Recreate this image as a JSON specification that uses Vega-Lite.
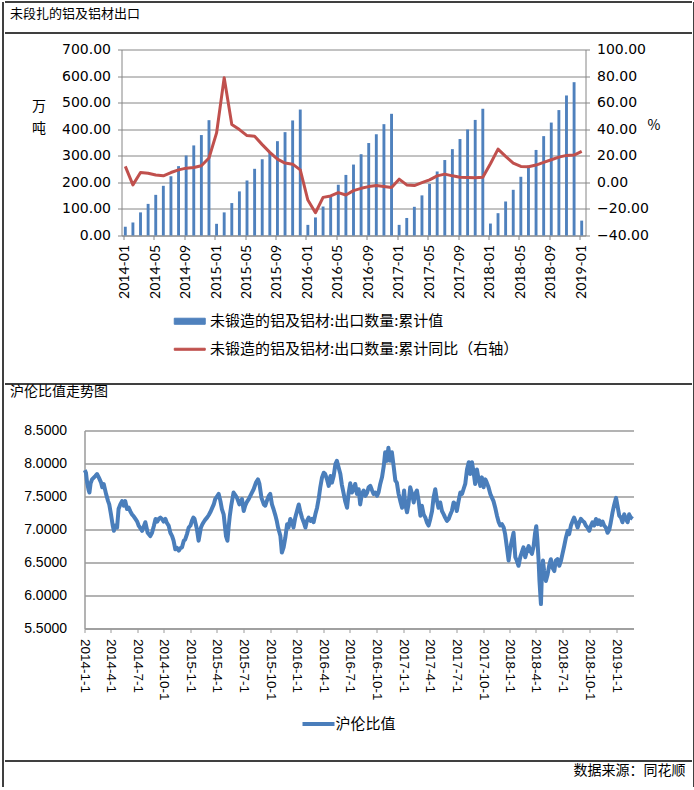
{
  "$schema": "https://vega.github.io/schema/vega-lite/v6.json",
  "background": "white",
  "padding": {"left": 1.5, "top": 0.5, "right": 0, "bottom": 0},
  "autosize": {"type": "pad"},
  "config": {
    "view": {"stroke": null},
    "font": "Noto Sans CJK SC",
    "axis": {"labelColor": "#000", "titleColor": "#000", "domainColor": "#868686", "tickColor": "#868686", "gridColor": "#868686"},
    "legend": {"labelColor": "#000", "padding": 0, "offset": 0},
    "title": {"color": "#000", "fontWeight": "normal", "font": "Noto Sans CJK SC", "fontSize": 14, "baseline": "alphabetic", "frame": "group"}
  },
  "spacing": 0,
  "align": "none",
  "bounds": "full",
  "resolve": {"scale": {"color": "independent"}, "legend": {"color": "independent"}},
  "hconcat": [
    {"width": 0.01, "height": 785, "view": {"stroke": "#000"}, "data": {"values": []}, "mark": "point"},
    {
      "spacing": 0,
      "align": "none",
      "bounds": "full",
      "resolve": {"scale": {"color": "independent"}, "legend": {"color": "independent"}},
      "vconcat": [
        {"width": 687, "height": 0.01, "view": {"stroke": "#000"}, "data": {"values": []}, "mark": "point"},
        {"width": 687, "height": 29, "data": {"values": []}, "mark": "point",
         "title": {"text": "未段扎的铝及铝材出口", "anchor": "start", "offset": -18, "dx": 5.5, "fontSize": 13}},
        {"width": 687, "height": 0.01, "view": {"stroke": "#000"}, "data": {"values": []}, "mark": "point"},
        {"width": 687, "height": 9, "data": {"values": []}, "mark": "point"},
        {
          "spacing": 0,
          "align": "none",
          "bounds": "flush",
          "resolve": {"scale": {"color": "independent"}, "legend": {"color": "independent"}},
          "hconcat": [
            {"width": 117, "height": 333, "data": {"values": []}, "mark": "point"},
            {
              "width": 464,
              "height": 186,
              "data": {"values": [
                {"month": "2014-01", "cum": 33, "yoy": 12.0},
                {"month": "2014-02", "cum": 49, "yoy": -1.9},
                {"month": "2014-03", "cum": 87, "yoy": 7.4},
                {"month": "2014-04", "cum": 119, "yoy": 6.9},
                {"month": "2014-05", "cum": 153, "yoy": 5.6},
                {"month": "2014-06", "cum": 187, "yoy": 4.9},
                {"month": "2014-07", "cum": 223, "yoy": 7.4},
                {"month": "2014-08", "cum": 261, "yoy": 9.4},
                {"month": "2014-09", "cum": 301, "yoy": 10.7},
                {"month": "2014-10", "cum": 339, "yoy": 11.2},
                {"month": "2014-11", "cum": 378, "yoy": 12.5},
                {"month": "2014-12", "cum": 434, "yoy": 18.3},
                {"month": "2015-01", "cum": 44, "yoy": 37.2},
                {"month": "2015-02", "cum": 87, "yoy": 78.8},
                {"month": "2015-03", "cum": 122, "yoy": 43.5},
                {"month": "2015-04", "cum": 166, "yoy": 39.7},
                {"month": "2015-05", "cum": 207, "yoy": 35.2},
                {"month": "2015-06", "cum": 251, "yoy": 34.7},
                {"month": "2015-07", "cum": 287, "yoy": 28.4},
                {"month": "2015-08", "cum": 311, "yoy": 22.6},
                {"month": "2015-09", "cum": 355, "yoy": 17.5},
                {"month": "2015-10", "cum": 389, "yoy": 14.5},
                {"month": "2015-11", "cum": 433, "yoy": 13.7},
                {"month": "2015-12", "cum": 474, "yoy": 9.4},
                {"month": "2016-01", "cum": 40, "yoy": -13.3},
                {"month": "2016-02", "cum": 68, "yoy": -22.9},
                {"month": "2016-03", "cum": 109, "yoy": -11.3},
                {"month": "2016-04", "cum": 147, "yoy": -10.2},
                {"month": "2016-05", "cum": 191, "yoy": -7.7},
                {"month": "2016-06", "cum": 228, "yoy": -9.5},
                {"month": "2016-07", "cum": 267, "yoy": -6.2},
                {"month": "2016-08", "cum": 306, "yoy": -4.5},
                {"month": "2016-09", "cum": 348, "yoy": -3.2},
                {"month": "2016-10", "cum": 381, "yoy": -2.4},
                {"month": "2016-11", "cum": 419, "yoy": -3.2},
                {"month": "2016-12", "cum": 458, "yoy": -3.9},
                {"month": "2017-01", "cum": 40, "yoy": 2.4},
                {"month": "2017-02", "cum": 66, "yoy": -1.9},
                {"month": "2017-03", "cum": 108, "yoy": -2.4},
                {"month": "2017-04", "cum": 151, "yoy": -0.2},
                {"month": "2017-05", "cum": 194, "yoy": 1.9},
                {"month": "2017-06", "cum": 241, "yoy": 4.9},
                {"month": "2017-07", "cum": 284, "yoy": 6.2},
                {"month": "2017-08", "cum": 325, "yoy": 4.9},
                {"month": "2017-09", "cum": 363, "yoy": 3.9},
                {"month": "2017-10", "cum": 399, "yoy": 3.6},
                {"month": "2017-11", "cum": 435, "yoy": 3.4},
                {"month": "2017-12", "cum": 477, "yoy": 3.9},
                {"month": "2018-01", "cum": 45, "yoy": 14.0},
                {"month": "2018-02", "cum": 84, "yoy": 25.0},
                {"month": "2018-03", "cum": 128, "yoy": 19.5},
                {"month": "2018-04", "cum": 172, "yoy": 14.5},
                {"month": "2018-05", "cum": 221, "yoy": 12.0},
                {"month": "2018-06", "cum": 263, "yoy": 11.7},
                {"month": "2018-07", "cum": 322, "yoy": 13.0},
                {"month": "2018-08", "cum": 374, "yoy": 15.0},
                {"month": "2018-09", "cum": 425, "yoy": 17.0},
                {"month": "2018-10", "cum": 472, "yoy": 19.0},
                {"month": "2018-11", "cum": 527, "yoy": 20.3},
                {"month": "2018-12", "cum": 577, "yoy": 20.5},
                {"month": "2019-01", "cum": 56, "yoy": 23.3}
              ]},
              "layer": [
                {
                  "mark": {"type": "bar"},
                  "encoding": {
                    "x": {
                      "field": "month", "type": "ordinal",
                      "scale": {"paddingInner": 0.62, "paddingOuter": 0.31},
                      "axis": {
                        "title": null,
                        "values": ["2014-01","2014-05","2014-09","2015-01","2015-05","2015-09","2016-01","2016-05","2016-09","2017-01","2017-05","2017-09","2018-01","2018-05","2018-09","2019-01"],
                        "bandPosition": 0,
                        "labelAngle": -90,
                        "labelFont": "Lato",
                        "labelFontSize": 14,
                        "labelOverlap": false,
                        "tickSize": 4,
                        "labelPadding": 5,
                        "grid": false
                      }
                    },
                    "y": {
                      "field": "cum", "type": "quantitative",
                      "scale": {"domain": [0, 700], "nice": false},
                      "axis": {
                        "values": [0, 100, 200, 300, 400, 500, 600, 700],
                        "format": ".2f",
                        "labelFont": "DejaVu Sans",
                        "labelFontSize": 14,
                        "tickSize": 4,
                        "labelPadding": 7,
                        "grid": true,
                        "title": ["万", "吨"],
                        "titleAngle": 0,
                        "titleX": -76,
                        "titleY": 50,
                        "titleAlign": "right",
                        "titleBaseline": "top",
                        "titleLineHeight": 22,
                        "titleFont": "Noto Sans CJK SC",
                        "titleFontSize": 14,
                        "titleFontWeight": "normal"
                      }
                    },
                    "color": {
                      "datum": "未锻造的铝及铝材:出口数量:累计值",
                      "scale": {
                        "domain": ["未锻造的铝及铝材:出口数量:累计值", "未锻造的铝及铝材:出口数量:累计同比（右轴）"],
                        "range": ["#4F81BD", "#C0504D"]
                      },
                      "legend": {
                        "title": null,
                        "orient": "none",
                        "legendX": 59.75,
                        "legendY": 263.25,
                        "direction": "vertical",
                        "labelFont": "Noto Sans CJK SC",
                        "labelFontSize": 15,
                        "labelLimit": 600,
                        "symbolType": {"expr": "datum.index === 0 ? 'M-2,-0.39H2V0.39H-2Z' : 'M-2,-0.13H2V0.13H-2Z'"},
                        "symbolSize": 240,
                        "symbolStrokeWidth": 1,
                        "symbolOpacity": 1,
                        "labelOffset": 11.75,
                        "rowPadding": 11
                      }
                    }
                  }
                },
                {
                  "mark": {"type": "line", "strokeWidth": 3, "strokeJoin": "round"},
                  "encoding": {
                    "x": {"field": "month", "type": "ordinal"},
                    "y": {
                      "field": "yoy", "type": "quantitative",
                      "scale": {"domain": [-40, 100], "nice": false},
                      "axis": {
                        "orient": "right",
                        "values": [-40, -20, 0, 20, 40, 60, 80, 100],
                        "format": ".2f",
                        "labelFont": "DejaVu Sans",
                        "labelFontSize": 14,
                        "tickSize": 4,
                        "labelPadding": 7,
                        "grid": false,
                        "title": "%",
                        "titleAngle": 0,
                        "titleX": 68,
                        "titleY": 76,
                        "titleAlign": "center",
                        "titleBaseline": "middle",
                        "titleFont": "Noto Sans CJK SC",
                        "titleFontSize": 14,
                        "titleFontWeight": "normal"
                      }
                    },
                    "color": {"datum": "未锻造的铝及铝材:出口数量:累计同比（右轴）"}
                  }
                }
              ],
              "resolve": {"scale": {"y": "independent"}}
            }
          ]
        },
        {"width": 687, "height": 0.01, "view": {"stroke": "#000"}, "data": {"values": []}, "mark": "point"},
        {"width": 687, "height": 39, "data": {"values": []}, "mark": "point",
         "title": {"text": "沪伦比值走势图", "anchor": "start", "offset": -14, "dx": 5.5}},
        {
          "spacing": 0,
          "align": "none",
          "bounds": "flush",
          "resolve": {"scale": {"color": "independent"}, "legend": {"color": "independent"}},
          "hconcat": [
            {"width": 80, "height": 329, "data": {"values": []}, "mark": "point"},
            {
              "width": 549,
              "height": 198,
              "data": {"values": [
                {"date":"2014-01-02","ratio":7.90},{"date":"2014-01-06","ratio":7.86},{"date":"2014-01-10","ratio":7.71},{"date":"2014-01-15","ratio":7.60},{"date":"2014-01-18","ratio":7.56},{"date":"2014-01-22","ratio":7.70},{"date":"2014-01-27","ratio":7.76},{"date":"2014-02-07","ratio":7.81},{"date":"2014-02-13","ratio":7.84},{"date":"2014-02-19","ratio":7.79},{"date":"2014-02-27","ratio":7.71},{"date":"2014-03-03","ratio":7.64},{"date":"2014-03-08","ratio":7.69},{"date":"2014-03-16","ratio":7.54},{"date":"2014-03-23","ratio":7.43},{"date":"2014-03-27","ratio":7.38},{"date":"2014-04-02","ratio":7.23},{"date":"2014-04-08","ratio":7.06},{"date":"2014-04-12","ratio":6.98},{"date":"2014-04-17","ratio":7.06},{"date":"2014-04-23","ratio":7.03},{"date":"2014-04-28","ratio":7.31},{"date":"2014-05-04","ratio":7.38},{"date":"2014-05-10","ratio":7.43},{"date":"2014-05-16","ratio":7.36},{"date":"2014-05-21","ratio":7.43},{"date":"2014-05-27","ratio":7.31},{"date":"2014-06-02","ratio":7.33},{"date":"2014-06-08","ratio":7.27},{"date":"2014-06-13","ratio":7.23},{"date":"2014-06-19","ratio":7.20},{"date":"2014-06-25","ratio":7.16},{"date":"2014-07-01","ratio":7.12},{"date":"2014-07-06","ratio":7.06},{"date":"2014-07-12","ratio":7.02},{"date":"2014-07-18","ratio":6.98},{"date":"2014-07-24","ratio":7.05},{"date":"2014-07-29","ratio":7.11},{"date":"2014-08-06","ratio":6.95},{"date":"2014-08-15","ratio":6.90},{"date":"2014-08-21","ratio":6.95},{"date":"2014-08-27","ratio":7.05},{"date":"2014-09-02","ratio":7.16},{"date":"2014-09-08","ratio":7.12},{"date":"2014-09-13","ratio":7.16},{"date":"2014-09-19","ratio":7.18},{"date":"2014-09-24","ratio":7.16},{"date":"2014-09-30","ratio":7.12},{"date":"2014-10-06","ratio":7.16},{"date":"2014-10-11","ratio":7.10},{"date":"2014-10-17","ratio":7.06},{"date":"2014-10-23","ratio":6.95},{"date":"2014-10-29","ratio":6.90},{"date":"2014-11-03","ratio":6.83},{"date":"2014-11-09","ratio":6.70},{"date":"2014-11-15","ratio":6.72},{"date":"2014-11-21","ratio":6.68},{"date":"2014-11-27","ratio":6.72},{"date":"2014-12-02","ratio":6.73},{"date":"2014-12-08","ratio":6.83},{"date":"2014-12-13","ratio":6.85},{"date":"2014-12-19","ratio":6.93},{"date":"2014-12-25","ratio":7.03},{"date":"2014-12-31","ratio":7.06},
                {"date":"2015-01-05","ratio":7.13},{"date":"2015-01-10","ratio":7.18},{"date":"2015-01-14","ratio":7.16},{"date":"2015-01-22","ratio":7.01},{"date":"2015-01-28","ratio":6.83},{"date":"2015-02-05","ratio":7.03},{"date":"2015-02-10","ratio":7.08},{"date":"2015-02-14","ratio":7.11},{"date":"2015-02-20","ratio":7.15},{"date":"2015-02-26","ratio":7.18},{"date":"2015-03-04","ratio":7.22},{"date":"2015-03-09","ratio":7.26},{"date":"2015-03-15","ratio":7.32},{"date":"2015-03-21","ratio":7.38},{"date":"2015-03-26","ratio":7.46},{"date":"2015-04-01","ratio":7.50},{"date":"2015-04-07","ratio":7.54},{"date":"2015-04-13","ratio":7.43},{"date":"2015-04-18","ratio":7.31},{"date":"2015-04-24","ratio":7.23},{"date":"2015-05-02","ratio":6.90},{"date":"2015-05-07","ratio":6.83},{"date":"2015-05-11","ratio":7.03},{"date":"2015-05-15","ratio":7.20},{"date":"2015-05-20","ratio":7.36},{"date":"2015-05-28","ratio":7.56},{"date":"2015-06-03","ratio":7.52},{"date":"2015-06-09","ratio":7.48},{"date":"2015-06-17","ratio":7.38},{"date":"2015-06-26","ratio":7.46},{"date":"2015-07-02","ratio":7.28},{"date":"2015-07-07","ratio":7.36},{"date":"2015-07-13","ratio":7.42},{"date":"2015-07-19","ratio":7.46},{"date":"2015-07-28","ratio":7.54},{"date":"2015-08-05","ratio":7.61},{"date":"2015-08-13","ratio":7.71},{"date":"2015-08-20","ratio":7.76},{"date":"2015-08-25","ratio":7.69},{"date":"2015-09-01","ratio":7.48},{"date":"2015-09-09","ratio":7.38},{"date":"2015-09-14","ratio":7.36},{"date":"2015-09-20","ratio":7.44},{"date":"2015-09-26","ratio":7.51},{"date":"2015-10-01","ratio":7.54},{"date":"2015-10-07","ratio":7.38},{"date":"2015-10-13","ratio":7.30},{"date":"2015-10-19","ratio":7.21},{"date":"2015-10-24","ratio":7.12},{"date":"2015-10-28","ratio":7.03},{"date":"2015-11-05","ratio":6.90},{"date":"2015-11-10","ratio":6.65},{"date":"2015-11-16","ratio":6.73},{"date":"2015-11-22","ratio":6.88},{"date":"2015-11-28","ratio":7.08},{"date":"2015-12-03","ratio":7.03},{"date":"2015-12-09","ratio":7.16},{"date":"2015-12-15","ratio":7.11},{"date":"2015-12-20","ratio":7.03},{"date":"2015-12-26","ratio":7.18},
                {"date":"2016-01-01","ratio":7.28},{"date":"2016-01-07","ratio":7.38},{"date":"2016-01-12","ratio":7.28},{"date":"2016-01-18","ratio":7.18},{"date":"2016-01-24","ratio":7.11},{"date":"2016-01-30","ratio":7.03},{"date":"2016-02-04","ratio":7.13},{"date":"2016-02-10","ratio":7.18},{"date":"2016-02-16","ratio":7.13},{"date":"2016-02-22","ratio":7.16},{"date":"2016-02-27","ratio":7.11},{"date":"2016-03-04","ratio":7.23},{"date":"2016-03-10","ratio":7.33},{"date":"2016-03-16","ratio":7.48},{"date":"2016-03-21","ratio":7.64},{"date":"2016-03-27","ratio":7.79},{"date":"2016-04-02","ratio":7.86},{"date":"2016-04-07","ratio":7.84},{"date":"2016-04-13","ratio":7.76},{"date":"2016-04-19","ratio":7.66},{"date":"2016-04-25","ratio":7.81},{"date":"2016-04-30","ratio":7.71},{"date":"2016-05-06","ratio":7.81},{"date":"2016-05-12","ratio":7.99},{"date":"2016-05-17","ratio":8.04},{"date":"2016-05-23","ratio":7.94},{"date":"2016-05-29","ratio":7.84},{"date":"2016-06-03","ratio":7.68},{"date":"2016-06-09","ratio":7.55},{"date":"2016-06-15","ratio":7.42},{"date":"2016-06-21","ratio":7.33},{"date":"2016-06-26","ratio":7.54},{"date":"2016-07-02","ratio":7.70},{"date":"2016-07-08","ratio":7.56},{"date":"2016-07-14","ratio":7.62},{"date":"2016-07-19","ratio":7.69},{"date":"2016-07-25","ratio":7.54},{"date":"2016-07-31","ratio":7.61},{"date":"2016-08-05","ratio":7.38},{"date":"2016-08-11","ratio":7.54},{"date":"2016-08-17","ratio":7.59},{"date":"2016-08-23","ratio":7.51},{"date":"2016-08-29","ratio":7.56},{"date":"2016-09-03","ratio":7.64},{"date":"2016-09-09","ratio":7.66},{"date":"2016-09-15","ratio":7.59},{"date":"2016-09-20","ratio":7.54},{"date":"2016-09-26","ratio":7.56},{"date":"2016-10-02","ratio":7.51},{"date":"2016-10-07","ratio":7.56},{"date":"2016-10-13","ratio":7.69},{"date":"2016-10-19","ratio":7.79},{"date":"2016-10-25","ratio":7.96},{"date":"2016-10-30","ratio":8.17},{"date":"2016-11-05","ratio":8.04},{"date":"2016-11-10","ratio":8.24},{"date":"2016-11-16","ratio":8.04},{"date":"2016-11-22","ratio":8.17},{"date":"2016-11-28","ratio":7.96},{"date":"2016-12-04","ratio":7.74},{"date":"2016-12-09","ratio":7.71},{"date":"2016-12-15","ratio":7.54},{"date":"2016-12-21","ratio":7.43},{"date":"2016-12-27","ratio":7.33},
                {"date":"2017-01-03","ratio":7.59},{"date":"2017-01-07","ratio":7.38},{"date":"2017-01-13","ratio":7.26},{"date":"2017-01-18","ratio":7.38},{"date":"2017-01-24","ratio":7.64},{"date":"2017-01-30","ratio":7.54},{"date":"2017-02-05","ratio":7.41},{"date":"2017-02-10","ratio":7.54},{"date":"2017-02-16","ratio":7.59},{"date":"2017-02-22","ratio":7.43},{"date":"2017-02-28","ratio":7.21},{"date":"2017-03-05","ratio":7.36},{"date":"2017-03-11","ratio":7.23},{"date":"2017-03-17","ratio":7.18},{"date":"2017-03-22","ratio":7.11},{"date":"2017-03-28","ratio":7.06},{"date":"2017-04-03","ratio":7.16},{"date":"2017-04-09","ratio":7.28},{"date":"2017-04-14","ratio":7.48},{"date":"2017-04-20","ratio":7.61},{"date":"2017-04-26","ratio":7.43},{"date":"2017-05-01","ratio":7.33},{"date":"2017-05-07","ratio":7.41},{"date":"2017-05-13","ratio":7.28},{"date":"2017-05-19","ratio":7.23},{"date":"2017-05-24","ratio":7.18},{"date":"2017-05-30","ratio":7.13},{"date":"2017-06-05","ratio":7.16},{"date":"2017-06-11","ratio":7.23},{"date":"2017-06-16","ratio":7.28},{"date":"2017-06-22","ratio":7.41},{"date":"2017-06-28","ratio":7.38},{"date":"2017-07-03","ratio":7.28},{"date":"2017-07-09","ratio":7.43},{"date":"2017-07-15","ratio":7.56},{"date":"2017-07-21","ratio":7.54},{"date":"2017-07-26","ratio":7.61},{"date":"2017-08-01","ratio":7.69},{"date":"2017-08-07","ratio":7.91},{"date":"2017-08-13","ratio":8.02},{"date":"2017-08-18","ratio":7.84},{"date":"2017-08-24","ratio":8.02},{"date":"2017-08-30","ratio":7.86},{"date":"2017-09-04","ratio":7.69},{"date":"2017-09-10","ratio":7.91},{"date":"2017-09-16","ratio":7.76},{"date":"2017-09-22","ratio":7.66},{"date":"2017-09-27","ratio":7.79},{"date":"2017-10-03","ratio":7.64},{"date":"2017-10-09","ratio":7.76},{"date":"2017-10-14","ratio":7.71},{"date":"2017-10-20","ratio":7.64},{"date":"2017-10-26","ratio":7.54},{"date":"2017-11-01","ratio":7.48},{"date":"2017-11-06","ratio":7.43},{"date":"2017-11-12","ratio":7.33},{"date":"2017-11-18","ratio":7.21},{"date":"2017-11-24","ratio":7.11},{"date":"2017-11-29","ratio":7.06},{"date":"2017-12-05","ratio":7.08},{"date":"2017-12-11","ratio":7.03},{"date":"2017-12-16","ratio":6.93},{"date":"2017-12-22","ratio":6.73},{"date":"2017-12-28","ratio":6.53},
                {"date":"2018-01-03","ratio":6.73},{"date":"2018-01-08","ratio":6.83},{"date":"2018-01-14","ratio":6.95},{"date":"2018-01-20","ratio":6.58},{"date":"2018-01-25","ratio":6.53},{"date":"2018-01-31","ratio":6.45},{"date":"2018-02-06","ratio":6.58},{"date":"2018-02-11","ratio":6.65},{"date":"2018-02-17","ratio":6.73},{"date":"2018-02-23","ratio":6.58},{"date":"2018-03-01","ratio":6.68},{"date":"2018-03-07","ratio":6.75},{"date":"2018-03-12","ratio":6.68},{"date":"2018-03-18","ratio":6.63},{"date":"2018-03-24","ratio":6.75},{"date":"2018-03-29","ratio":6.95},{"date":"2018-04-02","ratio":7.05},{"date":"2018-04-06","ratio":6.83},{"date":"2018-04-10","ratio":6.53},{"date":"2018-04-13","ratio":6.22},{"date":"2018-04-18","ratio":5.87},{"date":"2018-04-21","ratio":6.28},{"date":"2018-04-25","ratio":6.53},{"date":"2018-04-29","ratio":6.37},{"date":"2018-05-05","ratio":6.22},{"date":"2018-05-11","ratio":6.32},{"date":"2018-05-17","ratio":6.47},{"date":"2018-05-22","ratio":6.55},{"date":"2018-05-28","ratio":6.42},{"date":"2018-06-03","ratio":6.37},{"date":"2018-06-08","ratio":6.53},{"date":"2018-06-14","ratio":6.55},{"date":"2018-06-20","ratio":6.45},{"date":"2018-06-26","ratio":6.53},{"date":"2018-07-01","ratio":6.63},{"date":"2018-07-07","ratio":6.75},{"date":"2018-07-13","ratio":6.88},{"date":"2018-07-19","ratio":6.98},{"date":"2018-07-24","ratio":6.93},{"date":"2018-07-30","ratio":7.06},{"date":"2018-08-05","ratio":7.13},{"date":"2018-08-10","ratio":7.18},{"date":"2018-08-16","ratio":7.11},{"date":"2018-08-22","ratio":7.03},{"date":"2018-08-28","ratio":7.11},{"date":"2018-09-02","ratio":7.16},{"date":"2018-09-08","ratio":7.13},{"date":"2018-09-14","ratio":7.11},{"date":"2018-09-19","ratio":7.06},{"date":"2018-09-25","ratio":7.03},{"date":"2018-10-01","ratio":6.98},{"date":"2018-10-07","ratio":7.06},{"date":"2018-10-12","ratio":7.11},{"date":"2018-10-18","ratio":7.06},{"date":"2018-10-24","ratio":7.16},{"date":"2018-10-30","ratio":7.08},{"date":"2018-11-04","ratio":7.14},{"date":"2018-11-10","ratio":7.07},{"date":"2018-11-16","ratio":7.12},{"date":"2018-11-21","ratio":7.06},{"date":"2018-11-27","ratio":7.03},{"date":"2018-12-03","ratio":6.95},{"date":"2018-12-09","ratio":7.00},{"date":"2018-12-14","ratio":7.11},{"date":"2018-12-20","ratio":7.26},{"date":"2018-12-26","ratio":7.38},
                {"date":"2019-01-01","ratio":7.48},{"date":"2019-01-06","ratio":7.36},{"date":"2019-01-12","ratio":7.21},{"date":"2019-01-18","ratio":7.18},{"date":"2019-01-23","ratio":7.11},{"date":"2019-01-29","ratio":7.23},{"date":"2019-02-04","ratio":7.16},{"date":"2019-02-10","ratio":7.11},{"date":"2019-02-15","ratio":7.23},{"date":"2019-02-21","ratio":7.18},{"date":"2019-02-27","ratio":7.16}
              ]},
              "mark": {"type": "line", "strokeWidth": 4, "strokeJoin": "round"},
              "encoding": {
                "x": {
                  "field": "date", "type": "temporal",
                  "scale": {"type": "utc", "domain": [{"year": 2014, "month": 1, "date": 1, "utc": true}, {"year": 2019, "month": 3, "date": 2, "utc": true}]},
                  "axis": {
                    "title": null,
                    "values": [
                      {"year": 2014, "month": 1, "date": 1, "utc": true},{"year": 2014, "month": 4, "date": 1, "utc": true},{"year": 2014, "month": 7, "date": 1, "utc": true},{"year": 2014, "month": 10, "date": 1, "utc": true},
                      {"year": 2015, "month": 1, "date": 1, "utc": true},{"year": 2015, "month": 4, "date": 1, "utc": true},{"year": 2015, "month": 7, "date": 1, "utc": true},{"year": 2015, "month": 10, "date": 1, "utc": true},
                      {"year": 2016, "month": 1, "date": 1, "utc": true},{"year": 2016, "month": 4, "date": 1, "utc": true},{"year": 2016, "month": 7, "date": 1, "utc": true},{"year": 2016, "month": 10, "date": 1, "utc": true},
                      {"year": 2017, "month": 1, "date": 1, "utc": true},{"year": 2017, "month": 4, "date": 1, "utc": true},{"year": 2017, "month": 7, "date": 1, "utc": true},{"year": 2017, "month": 10, "date": 1, "utc": true},
                      {"year": 2018, "month": 1, "date": 1, "utc": true},{"year": 2018, "month": 4, "date": 1, "utc": true},{"year": 2018, "month": 7, "date": 1, "utc": true},{"year": 2018, "month": 10, "date": 1, "utc": true},
                      {"year": 2019, "month": 1, "date": 1, "utc": true}
                    ],
                    "format": "%Y-%-m-%-d",
                    "labelAngle": 90,
                    "labelFont": "Liberation Sans",
                    "labelFontSize": 13.5,
                    "labelOverlap": false,
                    "labelFlush": false,
                    "tickSize": 4,
                    "labelPadding": 6,
                    "domainColor": "#9a9a9a",
                    "domainWidth": 1.5,
                    "tickColor": "#9a9a9a",
                    "grid": false
                  }
                },
                "y": {
                  "field": "ratio", "type": "quantitative",
                  "scale": {"domain": [5.5, 8.5], "nice": false, "zero": false},
                  "axis": {
                    "title": null,
                    "values": [5.5, 6.0, 6.5, 7.0, 7.5, 8.0, 8.5],
                    "format": ".4f",
                    "labelFont": "Liberation Sans",
                    "labelFontSize": 14,
                    "ticks": false,
                    "labelPadding": 18,
                    "grid": true,
                    "gridColor": "#9a9a9a",
                    "gridWidth": 1.5,
                    "domainColor": "#9a9a9a",
                    "domainWidth": 1.5
                  }
                },
                "color": {
                  "datum": "沪伦比值",
                  "scale": {"domain": ["沪伦比值"], "range": ["#4A7EBB"]},
                  "legend": {
                    "title": null,
                    "orient": "none",
                    "legendX": 216,
                    "legendY": 275.5,
                    "labelFont": "Noto Sans CJK SC",
                    "labelFontSize": 15,
                    "symbolType": "stroke",
                    "symbolSize": 1024,
                    "symbolStrokeWidth": 4,
                    "labelOffset": -1
                  }
                }
              }
            }
          ]
        },
        {"width": 687, "height": 0.01, "view": {"stroke": "#000"}, "data": {"values": []}, "mark": "point"},
        {"width": 687, "height": 28, "data": {"values": []}, "mark": "point",
         "title": {"text": "数据来源：同花顺", "anchor": "end", "offset": -16, "dx": -6}},
        {"width": 687, "height": 0.01, "view": {"stroke": "#000"}, "data": {"values": []}, "mark": "point"}
      ]
    },
    {"width": 0.01, "height": 785, "view": {"stroke": "#000"}, "data": {"values": []}, "mark": "point"}
  ]
}
